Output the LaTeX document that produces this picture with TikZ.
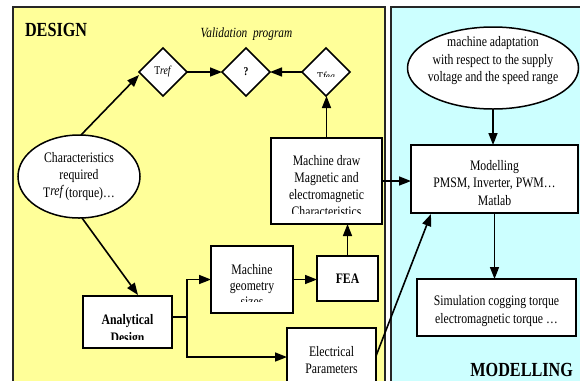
\documentclass[tikz,border=0pt]{standalone}
\usepackage{fontspec}
\setmainfont{Liberation Serif}[FakeStretch=0.81]
\usetikzlibrary{shapes.geometric,arrows.meta,calc}
\definecolor{dyellow}{RGB}{255,255,153}
\definecolor{mcyan}{RGB}{204,255,255}
\begin{document}
\begin{tikzpicture}[x=1bp,y=-1bp,
  every node/.style={font=\fontsize{14.5bp}{17.5bp}\selectfont, inner sep=0pt, outer sep=0pt},
  box/.style={draw, fill=white, line width=1.5bp, rectangle},
  dia/.style={draw, fill=white, line width=1.5bp, diamond, minimum width=48bp, minimum height=48bp},
  ell/.style={draw, fill=white, line width=1.5bp, ellipse},
  arr/.style={line width=1.6bp, -{Triangle[length=12bp,width=9bp]}},
  ln/.style={line width=1.6bp},
  panel/.style={draw=black!85, line width=1.6bp},
  big/.style={font=\fontsize{20bp}{24bp}\selectfont\bfseries},
  small/.style={font=\fontsize{12bp}{14bp}\selectfont},
]
\useasboundingbox (0,0) rectangle (580,380);
\clip (0,0) rectangle (580,380);
\fill[white] (0,0) rectangle (580,380);
% panels
\draw[panel, fill=dyellow] (13,7) rectangle (385,400);
\draw[panel, fill=mcyan] (391,7) rectangle (586,400);
\node[big, anchor=west] (design) at (25,30) {DESIGN};
\node[big, anchor=east] (modelling) at (573,370) {MODELLING};
\node[font=\fontsize{14bp}{17bp}\selectfont\itshape] (valid) at (246.5,34) {Validation\ \ program};
% diamonds
\node[dia, small] (tref) at (163,72) {T\textit{ref}};
\node[dia, small, font=\fontsize{12bp}{14bp}\selectfont\bfseries] (q) at (246,72) {?};
\node[dia] (tfea) at (326,72) {};
\begin{scope}
  \clip (300,60) rectangle (352,76);
  \node[small, anchor=base] (tfeat) at (326,80) {T\textit{fea}};
\end{scope}
% ellipses
\node[ell, minimum width=122bp, minimum height=83bp, align=center] (char) at (79,176.5)
  {Characteristics\\required\\T\raisebox{2bp}{\itshape ref}\,(torque)…};
\node[ell, minimum width=171bp, minimum height=82bp] (mell) at (493,68) {};
\node[align=center] (mellt) at (493,61) {machine adaptation\\with respect to the supply\\voltage and the speed range};
% boxes
\node[box, minimum width=111bp, minimum height=86bp] (mdraw) at (326.5,181) {};
\begin{scope}
  \clip (274,141) rectangle (379,213);
  \node[align=center, font=\fontsize{14.5bp}{17bp}\selectfont] (mdrawt) at (326.5,186)
    {Machine draw\\Magnetic and\\electromagnetic\\Characteristics};
\end{scope}
\node[box, minimum width=89bp, minimum height=52bp] (ana) at (127.5,322) {};
\begin{scope}
  \clip (86,299) rectangle (169,339.5);
  \node[align=center, font=\fontsize{14.5bp}{17.5bp}\selectfont\bfseries] (anat) at (127.5,330)
    {Analytical\\Design};
\end{scope}
\node[box, minimum width=82bp, minimum height=67bp] (geo) at (252,279.5) {};
\begin{scope}
  \clip (214,249) rectangle (290,301.5);
  \node[align=center, font=\fontsize{14.5bp}{16bp}\selectfont] (geot) at (252,285.5)
    {Machine\\geometry\\sizes};
\end{scope}
\node[box, minimum width=61bp, minimum height=45bp, font=\fontsize{14.5bp}{17.5bp}\selectfont\bfseries] (fea) at (347.5,278.5) {FEA};
\node[box, minimum width=89bp, minimum height=67bp] (elec) at (331.5,361.5) {};
\node[align=center, font=\fontsize{14.5bp}{16.5bp}\selectfont] (elect) at (331.5,360) {Electrical\\Parameters};
\node[box, minimum width=167bp, minimum height=68bp] (model) at (494.5,179) {};
\node[align=center] (modelt) at (494.5,183) {Modelling\\PMSM, Inverter, PWM…\\Matlab};
\node[box, minimum width=159bp, minimum height=57bp] (sim) at (496.5,307.5) {};
\node[align=center] (simt) at (496.5,311) {Simulation cogging torque\\electromagnetic torque …};
% connectors
\draw[arr] (tref.east) -- (q.west);
\draw[arr] (tfea.west) -- (q.east);
\draw[arr] ($(char.north)+(2,0)$) -- ($(tref.west)+(0,3)$);
\draw[arr] ($(char.south)+(3,0)$) -- ($(ana.north)+(10.5,-1)$);
\coordinate (anaout) at ($(ana.east)+(0,-5)$);
\coordinate (split) at ($(anaout)+(15,0)$);
\coordinate (elecin) at ($(elec.north west)+(0,29)$);
\draw[ln] (anaout) -- (split);
\draw[arr] (split) |- (geo.west);
\draw[arr] (split) |- (elecin);
\draw[arr] (geo.east) -- (geo.east -| fea.west);
\draw[arr] (fea.north) -- (fea.north |- mdraw.south);
\draw[arr] (mdraw.north) -- (mdraw.north |- tfea.south);
\draw[arr] (mdraw.east) -- (mdraw.east -| model.west);
\draw[arr] ($(elec.north east)+(0,28)$) -- ($(model.south west)+(20,1)$);
\draw[arr] (mell.south) -- (mell.south |- model.north);
\draw[arr] (model.south) -- (model.south |- sim.north);
\end{tikzpicture}
\end{document}
